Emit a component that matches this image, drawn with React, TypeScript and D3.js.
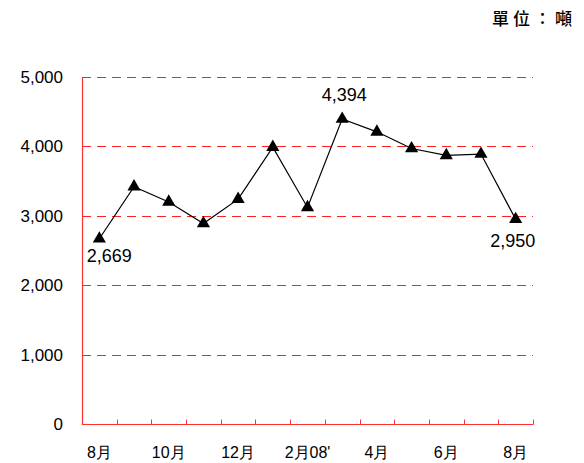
import React, {useRef, useEffect} from 'react';
import * as d3 from 'd3';

const months = ['8月', '9月', '10月', '11月', '12月', '1月', '2月', '3月', '4月', '5月', '6月', '7月', '8月'];
const tonnage = [2669, 3420, 3200, 2890, 3240, 3990, 3120, 4394, 4210, 3970, 3870, 3890, 2950];
const tickLabels = ['8月', '', '10月', '', '12月', '', "2月08'", '', '4月', '', '6月', '', '8月'];
const yTicks = [0, 1000, 2000, 3000, 4000, 5000];
// which points get a value label, and the nudge from the marker
const labelled: {[i: number]: [number, number]} = {0: [10, 23], 7: [2, -18], 12: [-3, 28]};

const W = 584, H = 463;
const margin = {left: 82, right: 51, top: 77, bottom: 39};

const App: React.FC = () => {
    const ref = useRef<SVGSVGElement | null>(null);

    useEffect(() => {
        const svg = d3.select(ref.current);
        svg.selectAll('*').remove();

        const x = d3.scaleBand<number>()
            .domain(months.map((_, i) => i))
            .range([margin.left, W - margin.right])
            .paddingInner(0).paddingOuter(0);
        const y = d3.scaleLinear().domain([0, 5000]).range([H - margin.bottom, margin.top]);

        const font = 'Arial, "Liberation Sans", sans-serif';

        // grid lines
        svg.append('g')
            .selectAll('line')
            .data(yTicks.filter(d => d > 0))
            .enter()
            .append('line')
            .attr('x1', margin.left)
            .attr('x2', W - margin.right)
            .attr('y1', d => Math.round(y(d)) + 0.5)
            .attr('y2', d => Math.round(y(d)) + 0.5)
            .attr('stroke', '#ff2020')
            .attr('stroke-width', 1)
            .attr('stroke-dasharray', '9,6');

        // y tick labels
        svg.append('g')
            .selectAll('text')
            .data(yTicks)
            .enter()
            .append('text')
            .attr('x', 63)
            .attr('y', d => y(d) + 6)
            .attr('text-anchor', 'end')
            .attr('font-family', font)
            .attr('font-size', 17)
            .attr('fill', '#000')
            .text(d => d3.format(',')(d));

        // axes
        const base = Math.round(y(0)) + 0.5;
        svg.append('line')
            .attr('x1', margin.left + 0.5).attr('x2', margin.left + 0.5)
            .attr('y1', y(5000)).attr('y2', base)
            .attr('stroke', '#ff3030').attr('stroke-width', 1.2);
        svg.append('line')
            .attr('x1', margin.left).attr('x2', W - margin.right + 0.5)
            .attr('y1', base).attr('y2', base)
            .attr('stroke', '#ff3030').attr('stroke-width', 1.2);

        // x ticks at band edges
        const edges = months.map((_, i) => x(i)!).concat([W - margin.right]);
        svg.append('g')
            .selectAll('line')
            .data(edges.slice(1))
            .enter()
            .append('line')
            .attr('x1', d => Math.round(d) + 0.5)
            .attr('x2', d => Math.round(d) + 0.5)
            .attr('y1', base)
            .attr('y2', base - 5)
            .attr('stroke', '#ff3030');

        // x labels
        svg.append('g')
            .selectAll('text')
            .data(tickLabels)
            .enter()
            .append('text')
            .attr('x', (d, i) => x(i)! + x.bandwidth() / 2)
            .attr('y', 458)
            .attr('text-anchor', 'middle')
            .attr('font-family', font)
            .attr('font-size', 16)
            .attr('fill', '#000')
            .text(d => d);

        const cx = (i: number) => x(i)! + x.bandwidth() / 2;

        // line
        const line = d3.line<number>()
            .x((_, i) => cx(i))
            .y(d => y(d));
        svg.append('path')
            .datum(tonnage)
            .attr('d', line)
            .attr('fill', 'none')
            .attr('stroke', '#000')
            .attr('stroke-width', 1.2);

        // triangle markers
        const tri = d3.symbol().type(d3.symbolTriangle).size(75);
        svg.append('g')
            .selectAll('path')
            .data(tonnage)
            .enter()
            .append('path')
            .attr('d', tri)
            .attr('transform', (d, i) => `translate(${cx(i)},${y(d)})`)
            .attr('fill', '#000');

        // value labels
        svg.append('g')
            .selectAll('text')
            .data(tonnage.map((v, i) => ({v, i})).filter(d => labelled[d.i]))
            .enter()
            .append('text')
            .attr('x', d => cx(d.i) + labelled[d.i][0])
            .attr('y', d => y(d.v) + labelled[d.i][1])
            .attr('text-anchor', 'middle')
            .attr('font-family', font)
            .attr('font-size', 18)
            .attr('fill', '#000')
            .text(d => d3.format(',')(d.v));

        // unit
        svg.append('text')
            .attr('x', 576)
            .attr('y', 25)
            .attr('text-anchor', 'end')
            .attr('font-family', '"Noto Sans CJK TC", sans-serif')
            .attr('font-size', 17)
            .attr('font-weight', 500)
            .attr('letter-spacing', 4)
            .attr('fill', '#000')
            .text('單位：噸');
    }, []);

    return (
        <svg ref={ref} width={W} height={H} style={{position: 'absolute', left: 0, top: 0, background: '#fff'}} />
    );
};

export default App;
